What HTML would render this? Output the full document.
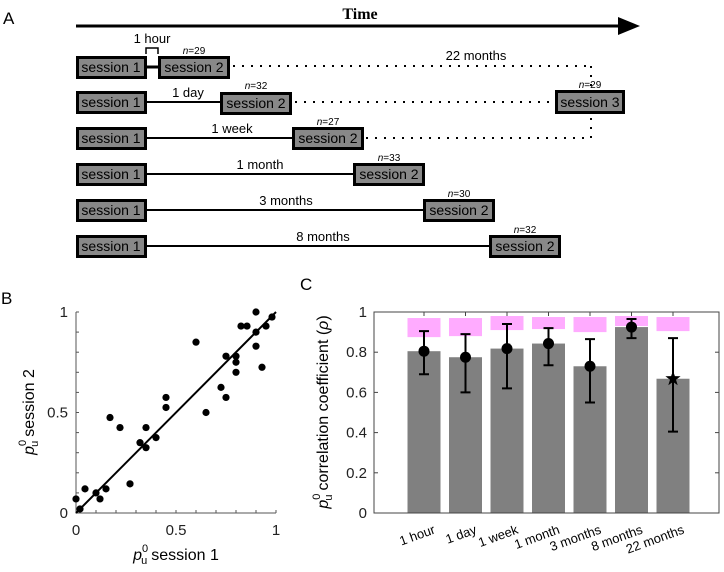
<!DOCTYPE html>
<html><head><meta charset="utf-8">
<style>
body{margin:0;background:#fff;}
svg{display:block;font-family:"Liberation Sans",sans-serif;}
</style></head>
<body>
<svg id="fig" width="724" height="572" viewBox="0 0 724 572">
<g id="panelA">
<text x="3" y="24" font-size="17">A</text>
<text x="360" y="19" font-size="16" font-weight="bold" font-family="Liberation Serif,serif" text-anchor="middle">Time</text>
<line x1="76" y1="26" x2="622" y2="26" stroke="#000" stroke-width="3"/>
<polygon points="618,17 640,26 618,35" fill="#000"/>
</g>
<g id="panelB">
<text x="1" y="304" font-size="17">B</text>
</g>
<g id="panelC">
<text x="300" y="290" font-size="17">C</text>
</g>
</svg>
<script>
const NS='http://www.w3.org/2000/svg';
function mk(parent,tag,attrs,txt){const e=document.createElementNS(NS,tag);for(const k in attrs)e.setAttribute(k,attrs[k]);if(txt!==undefined)e.textContent=txt;parent.appendChild(e);return e;}

// ---------- Panel A ----------
const A=document.getElementById('panelA');
const rowTops=[56,91,127,163,199,235];
const rowLabels=['1 hour','1 day','1 week','1 month','3 months','8 months'];
const s2Left=[158,220,292,353,423,489];
const nLabels=['n=29','n=32','n=27','n=33','n=30','n=32'];
const labelX=[150,188,232,260,286,323];
for(let i=0;i<6;i++){
  const t=rowTops[i],cy=t+11;
  const ln=mk(A,'line',{x1:146,y1:cy,x2:s2Left[i],y2:cy,stroke:'#000','stroke-width':i==0?3:2});
  
  
  const b1=mk(A,'rect',{x:77.5,y:t+1.5,width:68,height:20,fill:'#888',stroke:'#000','stroke-width':3});
  
  
  const t1=mk(A,'text',{x:111,y:cy+5,'font-size':14,'text-anchor':'middle'},'session 1');
  
  
  const b2=mk(A,'rect',{x:s2Left[i]+1.5,y:t+1.5+(i==1?1:0),width:69,height:20,fill:'#888',stroke:'#000','stroke-width':3});
  
  
  const t2=mk(A,'text',{x:s2Left[i]+36,y:cy+5+(i==1?1:0),'font-size':14,'text-anchor':'middle'},'session 2');
  
  
  const nl=mk(A,'text',{x:s2Left[i]+36,y:t-2,'font-size':10,'text-anchor':'middle'});
  
  
  mk(nl,'tspan',{'font-style':'italic'},'n');mk(nl,'tspan',{},nLabels[i].slice(1));
  if(i>0){
    const il=mk(A,'text',{x:labelX[i],y:cy-5,'font-size':13,'text-anchor':'middle'},rowLabels[i]);
    
    
  }
}
const hl=mk(A,'text',{x:152,y:43,'font-size':13,'text-anchor':'middle'},'1 hour');


const br=mk(A,'path',{d:'M146,54 V48 H158 V54',fill:'none',stroke:'#000','stroke-width':1.5});


const dots=[[233,66,591,66],[295,102,555,102],[366,138,591,138],[591,66,591,86],[591,118,591,138]];
dots.forEach(d=>{const l=mk(A,'line',{x1:d[0],y1:d[1],x2:d[2],y2:d[3],stroke:'#000','stroke-width':2,'stroke-dasharray':'2 7'});

});
const b3=mk(A,'rect',{x:556.5,y:91.5,width:67,height:21,fill:'#888',stroke:'#000','stroke-width':3});


const t3=mk(A,'text',{x:590,y:107,'font-size':14,'text-anchor':'middle'},'session 3');


const n3=mk(A,'text',{x:590,y:88,'font-size':10,'text-anchor':'middle'});


mk(n3,'tspan',{'font-style':'italic'},'n');mk(n3,'tspan',{},'=29');
const m22=mk(A,'text',{x:476,y:60,'font-size':13,'text-anchor':'middle'},'22 months');



// ---------- Panel B ----------
const scatterX=[0,0.045,0.02,0.1,0.12,0.15,0.17,0.22,0.27,0.32,0.35,0.35,0.4,0.45,0.45,0.6,0.65,0.725,0.75,0.75,0.8,0.8,0.8,0.825,0.855,0.9,0.9,0.9,0.93,0.95,0.98];
const scatterY=[0.07,0.12,0.02,0.1,0.07,0.12,0.475,0.425,0.145,0.35,0.425,0.325,0.375,0.575,0.525,0.85,0.5,0.625,0.575,0.78,0.78,0.75,0.70,0.93,0.93,1.0,0.9,0.83,0.725,0.93,0.975];
const fitLine=[[0,0],[1,1]];
const bTicks=[0,0.5,1];
const B=document.getElementById('panelB');
const bx=v=>76+v*200, by=v=>513-v*201;
const bAxes=mk(B,'path',{d:`M${bx(0)},${by(1)} V${by(0)} H${bx(1)}`,fill:'none',stroke:'#555','stroke-width':1});


for(let k=1;k<=10;k++){const v=k/10;
  const tx=mk(B,'line',{x1:bx(v),y1:by(0),x2:bx(v),y2:by(0)-3,stroke:'#555'});
  
  
  const ty=mk(B,'line',{x1:bx(0),y1:by(v),x2:bx(0)+3,y2:by(v),stroke:'#555'});
  
  }
bTicks.forEach(v=>{
  const lx=mk(B,'text',{x:bx(v),y:535,'font-size':15,'text-anchor':'middle',fill:'#222'},String(v));
  
  
  const ly=mk(B,'text',{x:68,y:by(v)+5,'font-size':15,'text-anchor':'end',fill:'#222'},String(v));
  
  });
const fl=mk(B,'line',{x1:bx(fitLine[0][0]),y1:by(fitLine[0][1]),x2:bx(fitLine[1][0]),y2:by(fitLine[1][1]),stroke:'#000','stroke-width':2});


scatterX.forEach((x,i)=>{const c=mk(B,'circle',{cx:bx(x),cy:by(scatterY[i]),r:3.6,fill:'#000'});
  
  });
const xt=mk(B,'text',{x:176,y:560,'font-size':16,'text-anchor':'middle'});


mk(xt,'tspan',{'font-style':'italic'},'p');mk(xt,'tspan',{'font-size':11,dy:-8,dx:0},'0');mk(xt,'tspan',{'font-size':11,dy:12,dx:-7},'u');mk(xt,'tspan',{dy:-4,dx:4},'session 1');
const yt=mk(B,'text',{x:0,y:0,'font-size':16,'text-anchor':'middle',transform:'translate(34,412) rotate(-90)'});


mk(yt,'tspan',{'font-style':'italic'},'p');mk(yt,'tspan',{'font-size':11,dy:-8},'0');mk(yt,'tspan',{'font-size':11,dy:12,dx:-7},'u');mk(yt,'tspan',{dy:-4,dx:4},'session 2');

// ---------- Panel C ----------
const categories=['1 hour','1 day','1 week','1 month','3 months','8 months','22 months'];
const rhoValues=[0.805,0.775,0.818,0.843,0.73,0.925,0.668];
const ciLow=[0.69,0.60,0.62,0.735,0.55,0.87,0.405];
const ciHigh=[0.905,0.89,0.94,0.92,0.865,0.965,0.87];
const ceilLow=[0.875,0.88,0.91,0.915,0.90,0.93,0.905];
const ceilHigh=[0.97,0.97,0.98,0.975,0.975,0.98,0.975];
const cTicks=[0,0.2,0.4,0.6,0.8,1];
const C=document.getElementById('panelC');
const cx=i=>424+i*41.5, cy=v=>513-v*201;
const bw=33;
categories.forEach((c,i)=>{
  const bar=mk(C,'rect',{x:cx(i)-bw/2,y:cy(rhoValues[i]),width:bw,height:cy(0)-cy(rhoValues[i]),fill:'#808080'});
  
  
  const pk=mk(C,'rect',{x:cx(i)-bw/2,y:cy(ceilHigh[i]),width:bw,height:cy(ceilLow[i])-cy(ceilHigh[i]),fill:'#ff66ff','fill-opacity':0.55});
  
  
});
const box=mk(C,'rect',{x:374,y:cy(1),width:345,height:cy(0)-cy(1),fill:'none',stroke:'#444','stroke-width':1});


cTicks.forEach(v=>{
  const t1=mk(C,'line',{x1:374,y1:cy(v),x2:378,y2:cy(v),stroke:'#444'});
  
  
  const t2=mk(C,'line',{x1:719,y1:cy(v),x2:715,y2:cy(v),stroke:'#444'});
  
  
  const lb=mk(C,'text',{x:367,y:cy(v)+5,'font-size':15,'text-anchor':'end',fill:'#222'},String(v));
  
  
});
categories.forEach((c,i)=>{
  const tk=mk(C,'line',{x1:cx(i),y1:cy(1),x2:cx(i),y2:cy(1)+4,stroke:'#444'});
  
  
  const eb=mk(C,'path',{d:`M${cx(i)},${cy(ciLow[i])} V${cy(ciHigh[i])} M${cx(i)-5},${cy(ciLow[i])} h10 M${cx(i)-5},${cy(ciHigh[i])} h10`,stroke:'#000','stroke-width':2,fill:'none'});
  
  
  if(i<6){const pt=mk(C,'circle',{cx:cx(i),cy:cy(rhoValues[i]),r:5.5,fill:'#000'});
    
    }
  else{const x0=cx(i),y0=cy(rhoValues[i]);let p='';
    for(let k=0;k<10;k++){const r=k%2?3.2:8,a=-Math.PI/2+k*Math.PI/5;p+=(x0+r*Math.cos(a)).toFixed(1)+','+(y0+r*Math.sin(a)).toFixed(1)+' ';}
    const st=mk(C,'polygon',{points:p,fill:'#000'});
    
    }
  const lb=mk(C,'text',{x:0,y:0,'font-size':13,'text-anchor':'end',transform:`translate(${cx(i)+12},${533}) rotate(-20)`},c);
  
  
});
const cyt=mk(C,'text',{x:0,y:0,'font-size':16,'text-anchor':'middle',transform:'translate(328,412) rotate(-90)'});


mk(cyt,'tspan',{'font-style':'italic'},'p');mk(cyt,'tspan',{'font-size':11,dy:-8},'0');mk(cyt,'tspan',{'font-size':11,dy:12,dx:-7},'u');mk(cyt,'tspan',{dy:-4,dx:4},'correlation coefficient (');mk(cyt,'tspan',{'font-style':'italic'},'ρ');mk(cyt,'tspan',{},')');
</script>
</body></html>
